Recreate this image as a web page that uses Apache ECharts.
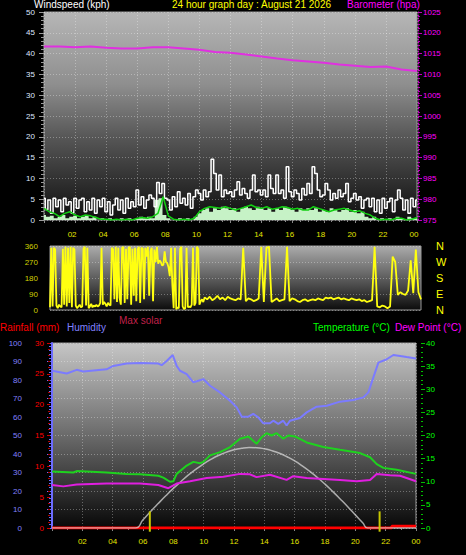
<!DOCTYPE html>
<html><head><meta charset="utf-8">
<script src="https://cdn.jsdelivr.net/npm/echarts@6/dist/echarts.min.js"></script>
<style>html,body{margin:0;padding:0;background:#000;}#c{width:466px;height:555px;}</style>
</head><body><div id="c"></div>
<script>
// ---- tick labels ----
const hourLabels = ['', '02', '04', '06', '08', '10', '12', '14', '16', '18', '20', '22', '00'];
const compassLabels = ['N', 'E', 'S', 'W', 'N'];

// ---- top panel: wind (kph) & barometer (hPa) ----
// gust, 10-minute samples from 00:00
const windGust = [
  5.2, 2.5, 4.8, 1.6, 5.2, 3.2,
  4.8, 2.0, 5.2, 3.6, 4.4, 1.6,
  5.2, 2.8, 4.8, 5.2, 2.0, 4.4,
  2.4, 5.2, 1.6, 4.8, 3.2, 5.2,
  2.0, 4.4, 1.2, 3.6, 5.2, 2.4,
  4.8, 1.6, 5.2, 2.8, 4.4, 3.2,
  7.2, 3.6, 5.6, 2.8, 4.8, 6.0,
  5.2, 3.2, 9.0, 6.4, 8.8, 5.2,
  4.8, 2.4, 5.6, 3.2, 6.8, 4.0,
  5.2, 3.6, 6.4, 2.8, 5.6, 7.2,
  6.4, 4.8, 7.2, 5.6, 6.8, 14.6,
  11.2, 7.2, 10.8, 5.6, 7.2, 6.4,
  6.8, 5.6, 7.2, 9.2, 6.0, 7.6,
  6.4, 5.2, 7.2, 10.8, 6.8, 7.2,
  6.0, 7.2, 5.6, 10.8, 7.6, 6.4,
  10.8, 6.4, 7.2, 5.2, 12.8, 6.8,
  5.6, 7.2, 6.4, 4.8, 7.6, 6.0,
  8.8, 6.4, 12.8, 11.2, 7.2, 5.6,
  6.0, 8.8, 7.2, 4.8, 6.4, 5.2,
  7.2, 5.6, 6.4, 8.8, 4.4, 5.2,
  6.4, 4.8, 5.6, 2.8, 4.8, 5.2,
  3.2, 5.2, 2.0, 4.8, 1.6, 5.2,
  2.8, 4.4, 5.2, 2.0, 4.8, 7.2,
  5.2, 2.4, 4.8, 1.6, 5.2, 3.2,
  4.8
];
// wind speed samples, 15-minute
const windSample = [
  1.2, 0.8, 1.0, 0.4,  0.8, 1.2, 0.4, 0.8,  1.0, 0.4, 0.8, 1.2,  0.4, 0.8, 0.0, 0.4,
  0.0, 0.4, 0.0, 0.0,  0.4, 0.0, 0.4, 0.0,  0.4, 0.8, 0.4, 0.8,  0.4, 4.8, 5.2, 1.2,
  0.4, 0.0, 0.0, 0.4,  0.0, 0.4, 0.0, 0.8,  1.6, 2.4, 2.8, 2.0,  2.8, 2.4, 3.2, 2.8,
  2.4, 2.8, 2.0, 2.8,  3.2, 2.8, 2.4, 3.2,  2.8, 2.4, 2.8, 2.0,  2.8, 2.4, 3.2, 2.8,
  2.4, 2.0, 2.8, 2.4,  2.8, 2.4, 2.8, 2.0,  2.4, 2.0, 2.8, 2.4,  2.0, 2.4, 2.8, 2.0,
  2.4, 1.6, 2.0, 0.8,  0.4, 0.8, 0.0, 0.4,  0.0, 0.4, 0.0, 0.8,  0.4, 0.0, 0.8, 0.4,
  0.4
];
// average wind, 20-minute
const windAvg = [
  2.8, 2.0, 1.6,  0.8, 1.6, 2.0,  1.2, 0.8, 1.2,  1.0, 0.6, 0.2,
  0.2, 0.0, 0.2,  0.0, 0.2, 0.0,  0.4, 0.6, 0.4,  0.8, 1.6, 5.6,
  1.0, 0.2, 0.0,  0.2, 0.0, 0.4,  2.0, 2.8, 3.2,  3.0, 2.8, 3.2,
  2.8, 2.4, 2.8,  3.2, 3.6, 3.0,  2.8, 3.2, 2.6,  2.8, 3.2, 3.0,
  2.6, 2.8, 2.4,  2.4, 3.2, 2.8,  2.4, 2.0, 2.4,  2.6, 2.8, 2.4,
  2.0, 2.2, 1.6,  1.2, 0.4, 0.0,  0.2, 0.0, 0.4,  0.4, 0.0, 0.2,
  0.6
];
// barometer, hourly
const baroHours = [0,1,2,3,4,5,6,7,8,9,10,11,12,13,14,15,16,17,18,19,20,21,22,23,24];
const barometer = [1016.7, 1016.7, 1016.5, 1016.7, 1016.4, 1016.2, 1016.2, 1016.5, 1016.5, 1016.2,
  1015.9, 1015.4, 1015.2, 1014.8, 1014.3, 1013.8, 1013.4, 1013.1, 1012.8, 1012.4,
  1012.1, 1011.8, 1011.9, 1011.2, 1010.8];

// ---- middle panel: wind direction (deg) ----
// 5-minute samples 00:00-10:00
const dirEarly = [
  15, 350, 20, 350, 340, 25, 10, 30, 20, 15, 345, 30,
  355, 20, 350, 40, 355, 15, 350, 340, 25, 10, 20, 30,
  15, 20, 345, 355, 25, 350, 10, 20, 35, 15, 25, 20,
  30, 20, 25, 40, 350, 30, 45, 35, 20, 40, 30, 25,
  350, 340, 60, 355, 45, 350, 70, 30, 350, 355, 40, 345,
  60, 350, 355, 30, 345, 80, 350, 50, 340, 355, 40, 350,
  345, 60, 350, 300, 355, 80, 330, 350, 50, 340, 270, 355,
  260, 280, 270, 250, 255, 330, 270, 265, 240, 190, 350, 140,
  10, 350, 5, 15, 10, 345, 355, 20, 5, 10, 350, 15,
  20, 15, 30, 350, 25, 40, 355, 345, 30, 50, 60, 45
];
// 10-minute samples 10:00-24:00
const dirLate = [
  70, 60, 75, 55, 65, 80,
  60, 70, 55, 75, 65, 60,
  55, 65, 60, 350, 50, 65,
  60, 50, 55, 65, 355, 45,
  350, 355, 45, 55, 65, 50,
  55, 60, 355, 50, 65, 60,
  50, 45, 55, 60, 50, 55,
  60, 55, 65, 60, 55, 70,
  65, 70, 60, 65, 70, 60,
  65, 60, 55, 65, 60, 55,
  60, 50, 55, 45, 50, 55,
  355, 20, 15, 25, 20, 10,
  20, 300, 270, 85, 100, 90,
  85, 110, 280, 95, 340, 100,
  60
];

// ---- bottom panel ----
const humTimes = [0, 0.97, 1.63, 2.07, 3.6, 4.04, 4.92, 5.8, 7.01, 7.23, 7.56, 7.96, 8.22, 8.44, 8.88, 9.32,
  9.65, 9.98, 10.42, 11.08, 11.74, 12.18, 12.51, 12.95, 13.27, 13.6, 13.93, 14.37, 14.59, 14.92, 15.25, 15.47,
  15.69, 16.35, 16.79, 17.45, 18.11, 18.99, 19.87, 20.53, 20.86, 21.19, 21.52, 22.07, 22.51, 22.95, 23.38, 24];
const humidity = [85, 83.5, 85.5, 84.6, 85.8, 87.6, 88.9, 89.2, 88.9, 88, 90.3, 93.5, 87.6, 85, 83.2, 78.7,
  79.6, 80.5, 76.9, 73.3, 68.8, 65.2, 60.2, 60.2, 61.7, 59.8, 56.6, 56.6, 58, 56.3, 58, 55.4,
  58, 59.5, 62.5, 65.6, 66.1, 68.3, 69.2, 70.6, 73.3, 81.4, 89.4, 91.2, 93.5, 93, 92.4, 91.6];
const tempTimes = [0, 1.41, 1.63, 3.6, 4.92, 5.8, 7.01, 7.34, 7.78, 8.0, 8.22, 8.88, 9.32, 9.76, 9.98, 10.42,
  11.08, 11.74, 12.4, 12.95, 13.49, 13.82, 14.15, 14.48, 14.81, 15.25, 15.58, 16.02, 16.79, 17.89, 18.99, 20.31,
  20.97, 21.41, 21.85, 22.73, 24];
const temperature = [12.2, 12.0, 12.3, 12.0, 11.7, 11.6, 11.3, 10.9, 10.0, 10.1, 11.7, 13.5, 14.3, 14.0, 14.3, 15.7,
  16.4, 17.5, 19.3, 19.8, 18.2, 19.6, 20.5, 20.0, 20.5, 19.3, 20.0, 19.8, 18.5, 17.5, 16.9, 16.2,
  15.3, 13.8, 13.0, 12.6, 11.7];
const dewTimes = [0, 0.75, 1.63, 3.6, 5.8, 7.01, 7.67, 8.22, 9.1, 10.2, 11.3, 12.4, 13.05, 13.49, 14.37, 15.47,
  15.91, 16.79, 17.89, 18.99, 20.09, 20.97, 21.41, 22.29, 22.95, 24];
const dewPoint = [9.3, 9.0, 9.4, 9.6, 9.6, 9.3, 8.6, 9.6, 10.1, 10.8, 11.1, 11.7, 11.6, 11.0, 11.5, 10.4,
  11.2, 10.8, 10.6, 10.4, 10.1, 10.4, 11.7, 11.4, 11.3, 10.1];
const solarTimes = [0, 5.5, 6, 6.5, 7, 7.5, 8, 8.5, 9, 9.5, 10, 10.5, 11, 11.5, 12, 12.5, 13, 13.5, 14, 14.5,
  15, 15.5, 16, 16.5, 17, 17.5, 18, 18.5, 19, 19.5, 20, 20.5, 20.8, 24];
const maxSolar = [0, 0, 44, 89, 132, 174, 214, 251, 287, 318, 347, 372, 393, 410, 423, 431, 435, 434, 428, 418,
  404, 385, 363, 336, 306, 273, 237, 198, 157, 115, 71, 27, 0, 0];
const rainTimes = [0, 22.4, 22.4, 24];
const rainfall = [0, 0, 0.3, 0.3];
const sunMarks = [6.45, 21.6];

// ---- helpers ----
const FONT = 'Liberation Sans, Arial, sans-serif';
const TF = '10px ' + FONT;
const pairs = (t, v) => v.map((y, i) => [t[i], y]);
const stepped = (start, stepH, v) => v.map((y, i) => [start + i * stepH, y]);
const grad = stops => ({type: 'linear', x: 0, y: 0, x2: 0, y2: 1,
  colorStops: stops.map(s => ({offset: s[0], color: s[1]}))});
const hourFmt = v => hourLabels[Math.round(v / 2)] || '';
const plainFmt = v => String(v);
const gridLine = {show: true, lineStyle: {color: 'rgba(255,255,255,0.32)', type: [1, 2], width: 1}};
const title = (text, fill, pos) => Object.assign({type: 'text',
  style: {text: text, fill: fill, font: TF, lineHeight: 10}}, pos);

const dirData = stepped(0, 1 / 12, dirEarly).concat(stepped(10, 1 / 6, dirLate));

const chart = echarts.init(document.getElementById('c'), null, {renderer: 'svg'});
const option = {
  backgroundColor: '#000',
  animation: false,
  textStyle: {fontFamily: FONT},
  grid: [
    {left: 44, top: 12, width: 373, height: 208, show: true, borderColor: '#9a9a9a', borderWidth: 1,
      backgroundColor: grad([[0, '#b6b6b6'], [0.35, '#8e8e8e'], [0.6, '#575757'], [1, '#0e0e0e']])},
    {left: 50, top: 246, width: 371, height: 64, show: true, borderColor: '#9a9a9a', borderWidth: 1,
      backgroundColor: grad([[0, '#ababab'], [0.5, '#5e5e5e'], [1, '#0c0c0c']])},
    {left: 52, top: 343, width: 364, height: 185, show: true, borderColor: '#9a9a9a', borderWidth: 1,
      backgroundColor: grad([[0, '#c6c6c6'], [0.45, '#747474'], [1, '#080808']])}
  ],
  xAxis: [
    {gridIndex: 0, type: 'value', min: 0, max: 24, interval: 2,
      axisLine: {show: false},
      axisTick: {show: true, length: 3, lineStyle: {color: '#888'}},
      minorTick: {show: true, splitNumber: 4, length: 2, lineStyle: {color: '#888'}},
      axisLabel: {color: '#e4e400', fontSize: 8, margin: 10, formatter: hourFmt, padding: [0, 6, 0, 0]},
      splitLine: gridLine},
    {gridIndex: 1, type: 'value', min: 0, max: 24, interval: 2, show: false},
    {gridIndex: 2, type: 'value', min: 0, max: 24, interval: 2,
      axisLine: {show: false},
      axisTick: {show: true, length: 3, lineStyle: {color: '#888'}},
      minorTick: {show: true, splitNumber: 2, length: 2, lineStyle: {color: '#888'}},
      axisLabel: {color: '#e4e400', fontSize: 8, margin: 9, formatter: hourFmt},
      splitLine: gridLine}
  ],
  yAxis: [
    {gridIndex: 0, type: 'value', min: 0, max: 50, interval: 5, position: 'left',
      axisLine: {show: false},
      axisTick: {show: true, length: 5, lineStyle: {color: '#9a9a9a'}},
      minorTick: {show: true, splitNumber: 5, length: 3, lineStyle: {color: '#9a9a9a'}},
      axisLabel: {color: '#dfe6ff', fontSize: 8, margin: 9, lineHeight: 8},
      splitLine: gridLine},
    {gridIndex: 0, type: 'value', min: 975, max: 1025, interval: 5, position: 'right', offset: 1,
      axisLine: {show: true, lineStyle: {color: '#c000c0', type: [1, 2]}},
      axisTick: {show: true, length: 4, lineStyle: {color: '#c000c0'}},
      minorTick: {show: true, splitNumber: 5, length: 2, lineStyle: {color: '#c000c0'}},
      axisLabel: {color: '#ff00ff', fontSize: 8, margin: 5, lineHeight: 8, formatter: plainFmt},
      splitLine: {show: false}},
    {gridIndex: 1, type: 'value', min: 0, max: 360, interval: 90, position: 'left',
      axisLine: {show: false}, axisTick: {show: false},
      axisLabel: {color: '#d0d000', fontSize: 8, margin: 12},
      splitLine: gridLine},
    {gridIndex: 1, type: 'value', min: 0, max: 360, interval: 90, position: 'right',
      axisLine: {show: false}, axisTick: {show: false},
      axisLabel: {color: '#ffff00', fontSize: 11, margin: 15, formatter: v => compassLabels[Math.round(v / 90)]},
      splitLine: {show: false}},
    {gridIndex: 2, type: 'value', min: 0, max: 100, interval: 10, position: 'left', offset: 22,
      axisLine: {show: true, lineStyle: {color: '#6c6cff', width: 2}},
      axisTick: {show: true, length: 5, lineStyle: {color: '#6c6cff'}},
      minorTick: {show: true, splitNumber: 5, length: 3, lineStyle: {color: '#6c6cff'}},
      axisLabel: {color: '#8080ff', fontSize: 8, margin: 8},
      splitLine: gridLine},
    {gridIndex: 2, type: 'value', min: 0, max: 30, interval: 5, position: 'left', offset: 2,
      axisLine: {show: false},
      axisTick: {show: true, length: 3, lineStyle: {color: '#d00000'}},
      minorTick: {show: true, splitNumber: 5, length: 2, lineStyle: {color: '#b00000'}},
      axisLabel: {color: '#ff0000', fontSize: 8, margin: 6},
      splitLine: {show: false}},
    {gridIndex: 2, type: 'value', min: 0, max: 40, interval: 5, position: 'right', offset: 5,
      axisLine: {show: false},
      axisTick: {show: true, length: 4, lineStyle: {color: '#00c000'}},
      minorTick: {show: true, splitNumber: 5, length: 2, lineStyle: {color: '#00c000'}},
      axisLabel: {color: '#00ff00', fontSize: 8, margin: 5},
      splitLine: {show: false}},
    {gridIndex: 2, type: 'value', min: 0, max: 1000, show: false}
  ],
  series: [
    {name: 'Wind sample', type: 'line', xAxisIndex: 0, yAxisIndex: 0, step: 'middle', showSymbol: false,
      data: stepped(0, 0.25, windSample), lineStyle: {width: 0},
      areaStyle: {color: '#c6f2c6', opacity: 1}},
    {name: 'Gust', type: 'line', xAxisIndex: 0, yAxisIndex: 0, step: 'middle', showSymbol: false,
      data: stepped(0, 1 / 6, windGust), lineStyle: {color: '#ffffff', width: 1.5}},
    {name: 'Average wind', type: 'line', xAxisIndex: 0, yAxisIndex: 0, showSymbol: false,
      data: stepped(0, 1 / 3, windAvg), lineStyle: {color: '#12d012', width: 1.5}},
    {name: 'Barometer', type: 'line', xAxisIndex: 0, yAxisIndex: 1, showSymbol: false,
      data: pairs(baroHours, barometer), lineStyle: {color: '#e030e0', width: 2}},
    {name: 'Wind direction', type: 'line', xAxisIndex: 1, yAxisIndex: 2, showSymbol: false,
      data: dirData, lineStyle: {color: '#ffff10', width: 1.8}},
    {name: 'Rainfall', type: 'line', xAxisIndex: 2, yAxisIndex: 5, showSymbol: false,
      data: pairs(rainTimes, rainfall), lineStyle: {color: '#ff0000', width: 3}},
    {name: 'Max solar', type: 'line', xAxisIndex: 2, yAxisIndex: 7, showSymbol: false, smooth: true,
      data: pairs(solarTimes, maxSolar), lineStyle: {color: 'rgba(215,215,215,0.75)', width: 1.5}},
    {name: 'Humidity', type: 'line', xAxisIndex: 2, yAxisIndex: 4, showSymbol: false,
      data: pairs(humTimes, humidity), lineStyle: {color: '#7b7bff', width: 2}},
    {name: 'Temperature', type: 'line', xAxisIndex: 2, yAxisIndex: 6, showSymbol: false,
      data: pairs(tempTimes, temperature), lineStyle: {color: '#1ed21e', width: 2}},
    {name: 'Dew Point', type: 'line', xAxisIndex: 2, yAxisIndex: 6, showSymbol: false,
      data: pairs(dewTimes, dewPoint), lineStyle: {color: '#e01ee0', width: 2}}
  ].concat(sunMarks.map(t => ({
    type: 'line', xAxisIndex: 2, yAxisIndex: 4, showSymbol: false, clip: false,
    data: [[t, -2], [t, 9]], lineStyle: {color: '#c8c800', width: 2}
  }))),
  graphic: [
    title('Windspeed (kph)', '#ffffff', {left: 34, top: -1}),
    title('24 hour graph day : August 21 2026', '#ffff00', {left: 172, top: -1}),
    title('Barometer (hpa)', '#ff00ff', {left: 347, top: -1}),
    title('Rainfall (mm)', '#ff0000', {left: 0, top: 322}),
    title('Humidity', '#8080ff', {left: 67, top: 322}),
    title('Max solar', '#c0204a', {left: 119, top: 315}),
    title('Temperature (°C)', '#00ff00', {left: 313, top: 322}),
    title('Dew Point (°C)', '#ff00ff', {left: 395, top: 322})
  ]
};
chart.setOption(option);
</script>
</body></html>
